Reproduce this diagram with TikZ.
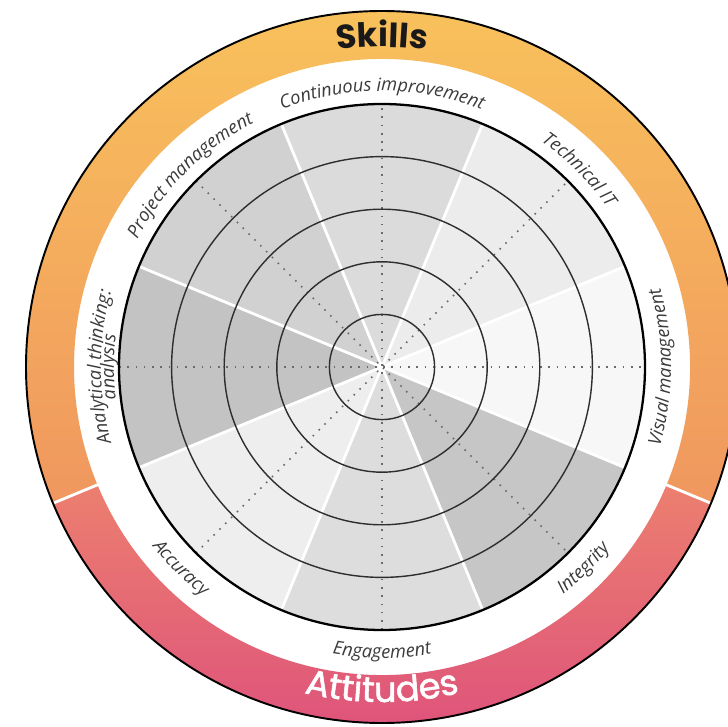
\documentclass[tikz,border=0pt]{standalone}
\usepackage{fontspec}
\setmainfont{Open Sans}
\newfontfamily\titlefont{Poppins}
\newfontfamily\titlemed{Poppins}[FakeBold=1.6,LetterSpace=3]
\usetikzlibrary{decorations.text}

\definecolor{skilltop}{HTML}{F9C55B}
\definecolor{skillbot}{HTML}{F0975F}
\definecolor{atttop}{HTML}{EC7F6F}
\definecolor{attbot}{HTML}{DC4C7D}
\definecolor{labeltext}{HTML}{3A3A3A}
\definecolor{ringline}{HTML}{2E2E2E}
\definecolor{dotgray}{HTML}{6A6A6A}

\newcommand{\lbl}{\fontsize{10.4}{12}\selectfont\itshape\color{labeltext}}

\begin{document}
\begin{tikzpicture}[x=0.02cm,y=0.02cm,
  ring/.style={draw=ringline,line width=0.8pt},
  rim/.style={draw=black,line width=1.3pt},
  sep/.style={draw=white,line width=1.6pt},
  dotline/.style={draw=dotgray,line width=0.9pt,dash pattern=on 0.9pt off 3.8pt},
  curved/.style={decorate,decoration={text along path,text align=center,text={#1}}}]
\useasboundingbox (-382,-360) rectangle (346,367);
\clip (-382,-360) rectangle (346,367);

\coordinate (O) at (0,0);

% outer band
\shade[top color=skilltop,bottom color=skillbot]
  (-22.5:308) arc[start angle=-22.5,end angle=202.5,radius=308]
  -- (202.5:356) arc[start angle=202.5,end angle=-22.5,radius=356] -- cycle;
\shade[top color=atttop,bottom color=attbot]
  (202.5:308) arc[start angle=202.5,end angle=337.5,radius=308]
  -- (337.5:356) arc[start angle=337.5,end angle=202.5,radius=356] -- cycle;
\draw[sep] (-22.5:306) -- (-22.5:358);
\draw[sep] (202.5:306) -- (202.5:358);
\draw[line width=1.1pt] (O) circle[radius=356];

% sectors
\fill[gray!28] (O) -- (67.5:263) arc[start angle=67.5,end angle=112.5,radius=263] -- cycle;
\fill[gray!15] (O) -- (22.5:263) arc[start angle=22.5,end angle=67.5,radius=263] -- cycle;
\fill[gray!6] (O) -- (-22.5:263) arc[start angle=-22.5,end angle=22.5,radius=263] -- cycle;
\fill[gray!45] (O) -- (-67.5:263) arc[start angle=-67.5,end angle=-22.5,radius=263] -- cycle;
\fill[gray!27] (O) -- (-112.5:263) arc[start angle=-112.5,end angle=-67.5,radius=263] -- cycle;
\fill[gray!13] (O) -- (-157.5:263) arc[start angle=-157.5,end angle=-112.5,radius=263] -- cycle;
\fill[gray!47] (O) -- (157.5:263) arc[start angle=157.5,end angle=202.5,radius=263] -- cycle;
\fill[gray!36] (O) -- (112.5:263) arc[start angle=112.5,end angle=157.5,radius=263] -- cycle;

\draw[sep] (O) -- (22.5:263);
\draw[sep] (O) -- (67.5:263);
\draw[sep] (O) -- (112.5:263);
\draw[sep] (O) -- (157.5:263);
\draw[sep] (O) -- (202.5:263);
\draw[sep] (O) -- (247.5:263);
\draw[sep] (O) -- (292.5:263);
\draw[sep] (O) -- (337.5:263);

\draw[dotline] (180:263) -- (0:263);
\draw[dotline] (270:263) -- (90:263);
\draw[dotline] (225:263) -- (45:263);
\draw[dotline] (135:263) -- (315:263);

\draw[ring] (O) circle[radius=52.6];
\draw[ring] (O) circle[radius=105.2];
\draw[ring] (O) circle[radius=157.8];
\draw[ring] (O) circle[radius=210.4];
\draw[rim] (O) circle[radius=263];

% labels
\path[curved={|\lbl|Continuous improvement}] (150:276) arc[start angle=150,end angle=30,radius=276];
\path[curved={|\lbl|Technical IT}] (105:276) arc[start angle=105,end angle=-15,radius=276];
\path[curved={|\lbl|Project management}] (195:276) arc[start angle=195,end angle=75,radius=276];
\path[curved={|\lbl|Analytical thinking:}] (240:281) arc[start angle=240,end angle=120,radius=281];
\path[curved={|\lbl|analysis}] (240:268) arc[start angle=240,end angle=120,radius=268];
\path[curved={|\lbl|Visual management}] (-60:289) arc[start angle=-60,end angle=60,radius=289];
\path[curved={|\lbl|Integrity}] (-105:291) arc[start angle=-105,end angle=15,radius=291];
\path[curved={|\lbl|Engagement}] (-150:291) arc[start angle=-150,end angle=-30,radius=291];
\path[curved={|\lbl|Accuracy}] (-195:291) arc[start angle=-195,end angle=-75,radius=291];

\path[curved={|\titlefont\bfseries\fontsize{19}{22}\selectfont\color{black!90}|Skills}] (140:320) arc[start angle=140,end angle=40,radius=320];
\path[curved={|\titlemed\fontsize{20}{23}\selectfont\color{white}|Attitudes}] (-140:335) arc[start angle=-140,end angle=-40,radius=335];
\end{tikzpicture}
\end{document}
